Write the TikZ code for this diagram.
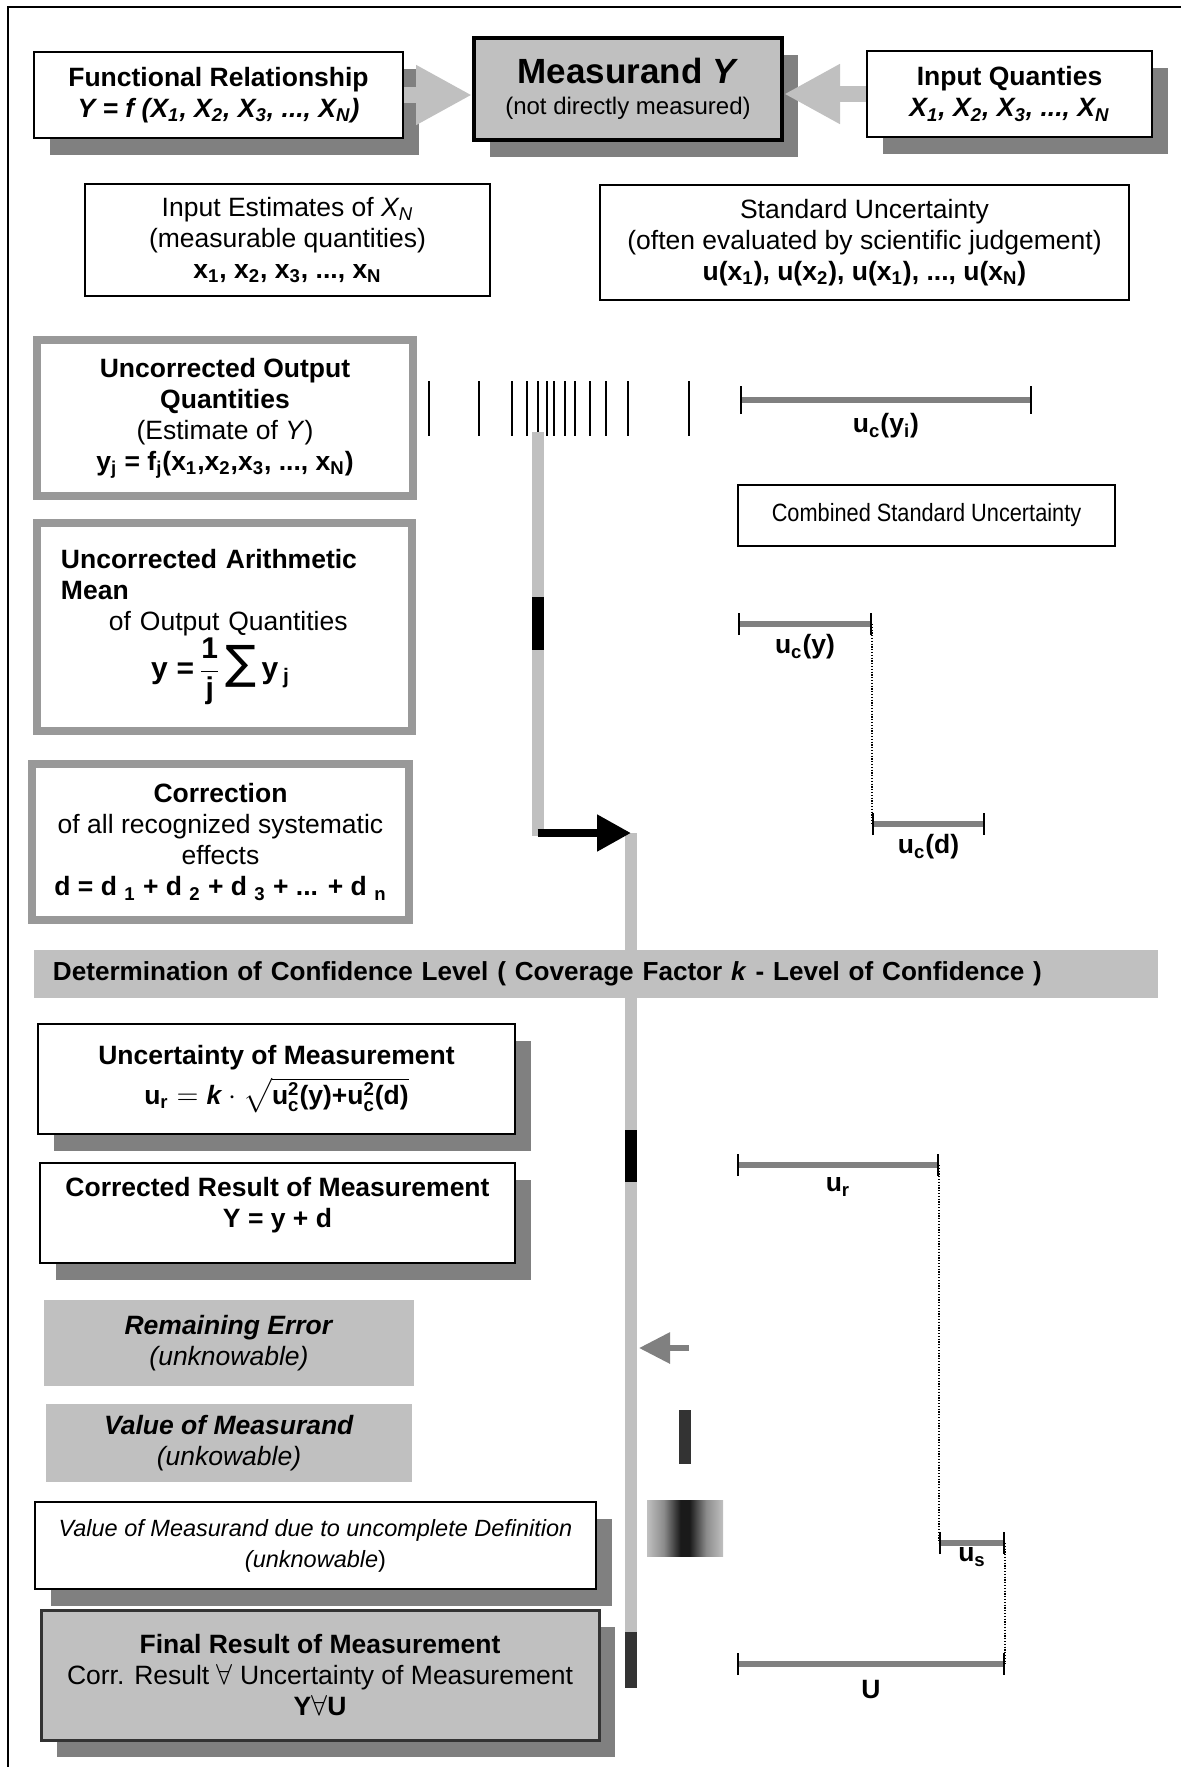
\documentclass[tikz,border=0pt]{standalone}
\usepackage{amsmath}
\usepackage{fontspec}
\setmainfont{Liberation Sans}
\newfontfamily\narrowfont[FakeStretch=0.87]{Liberation Sans}
\newfontfamily\symfont{DejaVu Sans}
\usetikzlibrary{arrows.meta,calc,shadows}
\definecolor{ink}{RGB}{0,0,0}
\definecolor{shadowgray}{RGB}{128,128,128}
\definecolor{fillgray}{RGB}{192,192,192}
\definecolor{framegray}{RGB}{153,153,153}
\definecolor{bargray}{RGB}{128,128,128}
\definecolor{darkbar}{RGB}{51,51,51}
\definecolor{nearblack}{RGB}{26,26,26}
\definecolor{midgray}{RGB}{140,140,140}
\pgfdeclarehorizontalshading{blurband}{100bp}{color(0bp)=(fillgray); color(25bp)=(fillgray);
  color(36bp)=(midgray); color(47bp)=(nearblack); color(53bp)=(nearblack); color(64bp)=(midgray);
  color(75bp)=(fillgray); color(100bp)=(fillgray)}

\begin{document}
\begin{tikzpicture}[
  x=0.5pt, y=-0.5pt,
  font=\fontsize{13.25pt}{15.5pt}\selectfont,
  box/.style={draw=ink, fill=white, line width=1pt, align=center, inner sep=0pt},
  dropped/.style={drop shadow={shadow xshift=8pt, shadow yshift=-8.5pt, fill=shadowgray, opacity=1}},
  thickbox/.style={draw=framegray, fill=white, line width=4pt, align=center, inner sep=0pt},
  fogbox/.style={fill=fillgray, align=center, inner sep=0pt},
  blockarrow/.style={draw=fillgray, line width=8pt, -{Triangle[length=28pt, width=28pt]}},
  lane/.style={draw=fillgray, line width=6pt},
  seg/.style={line width=6pt},
  spreadtick/.style={draw=ink, line width=1pt},
  ubar/.style={draw=bargray, line width=3pt, {Bar[width=11pt, line width=1pt, color=ink]}-{Bar[width=11pt, line width=1pt, color=ink]}},
  link/.style={draw=ink, line width=0.6pt, dash pattern=on 0.6pt off 0.8pt},
  ulabel/.style={font=\fontsize{13.25pt}{15.5pt}\selectfont\bfseries, inner sep=0pt},
]
\useasboundingbox (0,0) rectangle (1181,1767);
\draw[ink, line width=1pt] (7.5,1767) -- (7.5,7) -- (1181,7);

% ---------------------------------------------------------------- top row
\node[box, dropped, minimum width=184.5pt, minimum height=43pt] (fr) at (218.5,95)
  {\textbf{Functional Relationship}\\
   \textbf{\textit{Y = f (X\textsubscript{1}, X\textsubscript{2}, X\textsubscript{3}, ..., X\textsubscript{N})}}};
\node[box, dropped, fill=fillgray, line width=2pt, minimum width=154pt, minimum height=51pt] (meas) at (628,89)
  {{\fontsize{17.5pt}{19pt}\selectfont\bfseries Measurand \textit{Y}}\\
   {\fontsize{12pt}{14pt}\selectfont (not directly measured)}};
\node[box, dropped, minimum width=142.5pt, minimum height=43pt] (iq) at (1009.5,94)
  {\textbf{Input Quanties}\\
   \textbf{\textit{X\textsubscript{1}, X\textsubscript{2}, X\textsubscript{3}, ..., X\textsubscript{N}}}};

\draw[blockarrow] (fr.east) -- (fr.east -| meas.west);
\draw[blockarrow] (iq.west) -- (iq.west -| meas.east);

\node[box, minimum width=202.5pt, minimum height=56pt] (est) at (287.5,240)
  {Input Estimates of \textit{X\textsubscript{N}}\\
   (measurable quantities)\\
   \textbf{x\textsubscript{1}, x\textsubscript{2}, x\textsubscript{3}, ..., x\textsubscript{N}}};
\node[box, minimum width=264.5pt, minimum height=57.5pt] (stdu) at (864.5,242.5)
  {Standard Uncertainty\\
   (often evaluated by scientific judgement)\\
   \textbf{u(x\textsubscript{1}), u(x\textsubscript{2}), u(x\textsubscript{1}), ..., u(x\textsubscript{N})}};

% ---------------------------------------------------------------- left column
\node[thickbox, minimum width=188pt, minimum height=78pt] (uoq) at (225,418)
  {\textbf{Uncorrected Output}\\
   \textbf{Quantities}\\
   (Estimate of \textit{Y})\\
   \textbf{y\textsubscript{j} = f\textsubscript{j}(x\textsubscript{1},x\textsubscript{2},x\textsubscript{3}, ..., x\textsubscript{N})}};
\node[thickbox, align=left, inner xsep=12pt, text width=163.5pt, minimum height=104pt] (uam) at (224.5,627)
  {\textbf{Uncorrected Arithmetic}\\
   \textbf{Mean}\\
   \hspace*{24pt}of Output Quantities\\
   \hspace*{45pt}{\fontsize{15pt}{18pt}\selectfont\textbf{y =}\,$\dfrac{\textbf{1}}{\textbf{j}}$\,{\symfont\fontsize{23pt}{20pt}\selectfont ∑}\,\textbf{y}\,$_{\textbf{j}}$}};
\node[thickbox, minimum width=188.5pt, minimum height=78pt] (corr) at (220.5,842)
  {\textbf{Correction}\\
   of all recognized systematic\\
   effects\\
   \textbf{d = d \textsubscript{1} + d \textsubscript{2} + d \textsubscript{3} + ... + d \textsubscript{n}}};

\node[box, minimum width=188.5pt, minimum height=30.5pt] (csu) at (926.5,515.5)
  {\narrowfont\fontsize{12.5pt}{15pt}\selectfont Combined Standard Uncertainty};

% ---------------------------------------------------------------- spread of values and lanes
\foreach \t in {429,479,512,527,538,547,554,565,575,590,606,628,689}
  \draw[spreadtick] (\t,381) -- (\t,436);

\coordinate (spread) at (537.5,432);
\coordinate (corrpt) at (537.5,833);
\coordinate (lanetop) at (631,833);
\coordinate (laneend) at (631,1688);

\draw[lane] (spread) -- ($(corrpt)+(0,3)$);
\draw[seg, ink] (537.5,597) -- (537.5,650);
\draw[lane] (lanetop) -- (631,1632);
\draw[seg, ink] (631,1130) -- (631,1182);
\draw[seg, darkbar] (631,1632) -- (laneend);
\draw[ink, line width=4pt, -{Triangle[length=17pt, width=17.5pt]}] (corrpt) -- (lanetop);

\node[fogbox, minimum width=562pt, minimum height=24pt, align=left, text width=543pt] (conf) at (596,974)
  {\fontsize{13.05pt}{15.5pt}\selectfont\textbf{Determination of Confidence Level ( Coverage Factor \textit{k} - Level of Confidence )}};

% ---------------------------------------------------------------- lower boxes
\node[box, dropped, minimum width=238.5pt, minimum height=55pt] (uom) at (276.5,1079)
  {\textbf{Uncertainty of Measurement}\\[3pt]
   $\textbf{u}_{\textbf{r}} = \textbf{\textit{k}}\cdot\sqrt{\textbf{u}^{\textbf{2}}_{\textbf{c}}\textbf{(y)}\textbf{+}\textbf{u}^{\textbf{2}}_{\textbf{c}}\textbf{(d)}}$};
\node[box, dropped, minimum width=237.5pt, minimum height=50pt] (crm) at (277.5,1213)
  {\textbf{Corrected Result of Measurement}\\
   \textbf{Y = y + d}\\[-5pt]\mbox{}};
\node[fogbox, minimum width=185pt, minimum height=43pt] (rem) at (229,1343)
  {\textbf{\textit{Remaining Error}}\\
   \textit{(unknowable)}};
\node[fogbox, minimum width=183pt, minimum height=39pt] (val) at (229,1443)
  {\textbf{\textit{Value of Measurand}}\\
   \textit{(unkowable)}};
\node[box, dropped, minimum width=280.5pt, minimum height=43.5pt, font=\fontsize{11.75pt}{15.5pt}\selectfont] (vdef) at (315.5,1545.5)
  {\textit{Value of Measurand due to uncomplete Definition}\\
   \textit{(unknowable})};
\node[box, dropped, fill=fillgray, draw=darkbar, line width=1.5pt, minimum width=279pt, minimum height=65pt] (fin) at (320,1675)
  {\textbf{Final Result of Measurement}\\
   Corr. Result $\forall$ Uncertainty of Measurement\\
   \textbf{Y$\forall$U}};

% ---------------------------------------------------------------- markers beside the lane
\coordinate (errtail) at (689,1348);
\coordinate (errtip) at (639,1348);
\draw[bargray, line width=3pt, -{Triangle[length=15.5pt, width=15pt]}] (errtail) -- (errtip);
\fill[darkbar] (679,1410) rectangle (691,1464);
\shade[shading=blurband] (647,1500) rectangle (723,1556);

% ---------------------------------------------------------------- uncertainty bars
\coordinate (ci-a) at (740,400);   \coordinate (ci-b) at (1032,400);
\coordinate (cy-a) at (738,624);   \coordinate (cy-b) at (872,624);
\coordinate (cd-a) at (872,824);   \coordinate (cd-b) at (985,824);
\coordinate (ur-a) at (737,1165);  \coordinate (ur-b) at (939,1165);
\coordinate (us-a) at (939,1543);  \coordinate (us-b) at (1005,1543);
\coordinate (uu-a) at (737,1664);  \coordinate (uu-b) at (1005,1664);

\draw[ubar, {Bar[width=14pt, line width=1pt, color=ink]}-{Bar[width=14pt, line width=1pt, color=ink]}] (ci-a) -- node[ulabel, yshift=-13pt] {u\textsubscript{c}(y\textsubscript{i})} (ci-b);
\draw[ubar] (cy-a) -- node[ulabel, yshift=-11.5pt] {u\textsubscript{c}(y)} (cy-b);
\draw[link] (cy-b) -- (cd-a);
\draw[ubar] (cd-a) -- node[ulabel, yshift=-11.5pt] {u\textsubscript{c}(d)} (cd-b);
\draw[ubar] (ur-a) -- node[ulabel, yshift=-11pt] {u\textsubscript{r}} (ur-b);
\draw[link] (ur-b) -- (us-a);
\draw[ubar] (us-a) -- node[ulabel, yshift=-7pt] {u\textsubscript{s}} (us-b);
\draw[link] (us-b) -- (uu-b);
\draw[ubar] (uu-a) -- node[ulabel, yshift=-12.5pt] {U} (uu-b);
\end{tikzpicture}
\end{document}
